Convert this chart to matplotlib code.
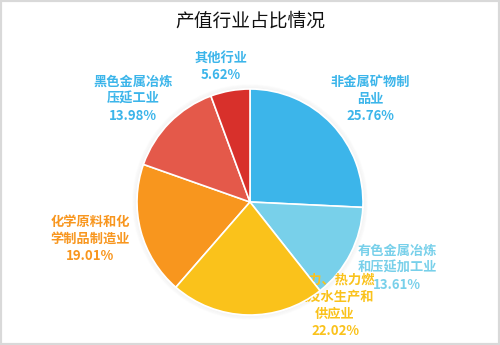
import matplotlib
matplotlib.use("Agg")
import matplotlib.pyplot as plt
from matplotlib.patches import Rectangle, Circle

plt.rcParams['font.family'] = ['Noto Sans CJK SC', 'DejaVu Sans']

title = "产值行业占比情况"
categories = ["非金属矿物制品业", "有色金属冶炼和压延加工业", "电力、热力燃气及水生产和供应业",
              "化学原料和化学制品制造业", "黑色金属冶炼压延工业", "其他行业"]
label_lines = ["非金属矿物制\n品业", "有色金属冶炼\n和压延加工业", "电力、热力燃\n气及水生产和\n供应业",
               "化学原料和化\n学制品制造业", "黑色金属冶炼\n压延工业", "其他行业"]
values = [25.76, 13.61, 22.02, 19.01, 13.98, 5.62]
colors = ["#3CB5EA", "#78D0EA", "#FAC21B", "#F8961E", "#E4594A", "#D8302B"]
label_colors = ["#3CB5EA", "#78D0EA", "#FAC21B", "#F8961E", "#3CB5EA", "#3CB5EA"]
label_pos = [(370, 99), (397, 268), (335, 305), (90, 239), (133, 99), (221, 66)]

W, H = 500, 345
fig = plt.figure(figsize=(W / 100, H / 100), dpi=100)
ax = fig.add_axes([0, 0, 1, 1])

cx, cy, r = 250, H - 202, 113

# soft shadow
for i, a in enumerate([0.05, 0.04, 0.03, 0.02]):
    ax.add_patch(Circle((cx, cy), r + 1 + i, facecolor="none", edgecolor="#888888",
                        lw=1.2, alpha=a, zorder=1))

wedges, _ = ax.pie(values, colors=colors, startangle=90, counterclock=False,
                   center=(cx, cy), radius=r, frame=True,
                   wedgeprops=dict(edgecolor="white", linewidth=1.2))
for i, w in enumerate(wedges):
    w.set_zorder(5 if i == 2 else 3)

for i, (lab, v, c, (x, y)) in enumerate(zip(label_lines, values, label_colors, label_pos)):
    ax.text(x, H - y, f"{lab}\n{v:.2f}%", color=c, ha="center", va="center",
            fontsize=9.5, fontweight="bold", linespacing=1.3,
            zorder=4.5 if i == 2 else 4)

ax.text(250, H - 21, title, ha="center", va="center", fontsize=13.5, color="#111111")

ax.set_xlim(0, W)
ax.set_ylim(0, H)
ax.set_aspect("auto")
ax.axis("off")

fig.patches.append(Rectangle((0, 0), 1, 1, transform=fig.transFigure, fill=False,
                             edgecolor="#D9D9D9", linewidth=3))

fig.savefig("out.png", dpi=100, facecolor="white")
